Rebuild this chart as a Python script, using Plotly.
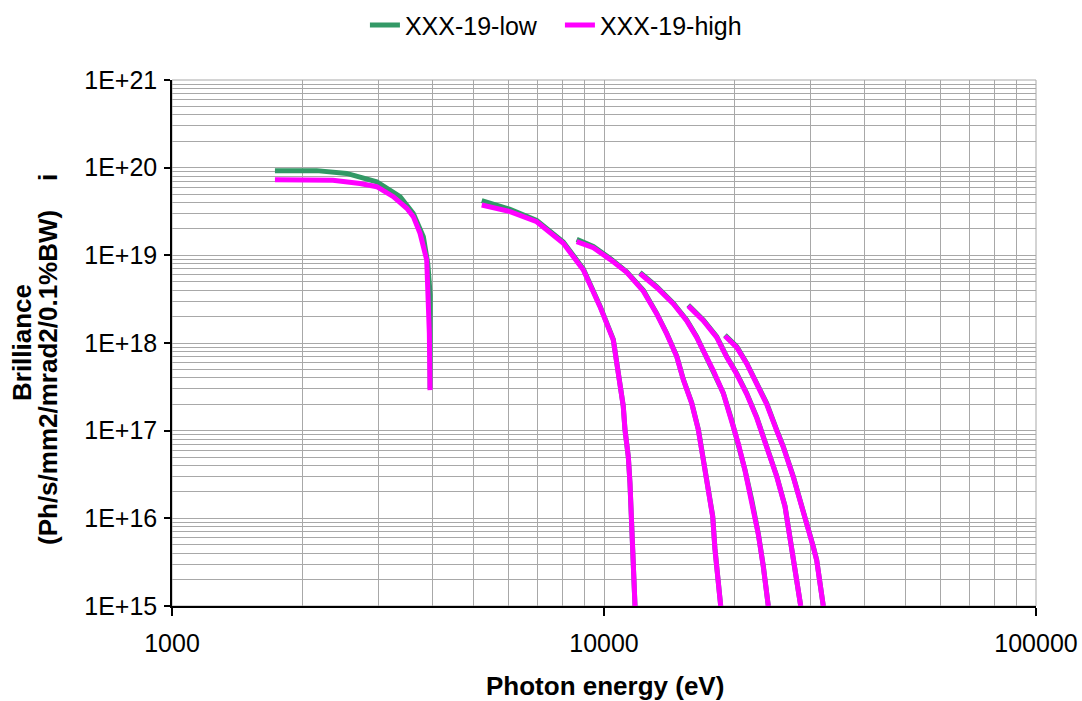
import plotly.graph_objects as go

# ---- data ----
# photon energy (eV) per harmonic segment
E1_high = [1731, 2000, 2358, 2724, 2978, 3253, 3494, 3619, 3751, 3887, 3921, 3942, 3956]
B1_high = [7.3e19, 7.35e19, 7.2e19, 6.6e19, 6.07e19, 4.67e19, 3.44e19, 2.76e19, 1.78e19, 8.85e18, 3.69e18, 1.29e18, 2.9e17]
E1_low = [1731, 2000, 2162, 2537, 2978, 3372, 3619, 3818, 3910, 3960, 3965, 3958]
B1_low = [9.25e19, 9.3e19, 9.25e19, 8.6e19, 6.9e19, 4.67e19, 3.0e19, 1.63e19, 8.0e18, 3.5e18, 1.2e18, 3.0e17]

E2 = [5212, 6060, 6985, 8050, 8958, 9788, 10508, 10792, 11083, 11183, 11385, 11485, 11590, 11652, 11797]
B2_high = [3.75e19, 3.15e19, 2.42e19, 1.37e19, 6.8e18, 2.6e18, 1.08e18, 4.5e17, 1.88e17, 1.02e17, 5.0e16, 2.5e16, 1.04e16, 4.4e15, 1.0e15]
B2_low = [4.2e19, 3.35e19, 2.5e19, 1.42e19, 7.0e18, 2.65e18, 1.1e18, 4.6e17, 1.9e17, 1.03e17, 5.0e16, 2.5e16, 1.04e16, 4.4e15, 1.0e15]

E3 = [8646, 9447, 10325, 11288, 12331, 13243, 13970, 14734, 15262, 15959, 16533, 16979, 17436, 17849, 18066, 18391, 18627]
B3_high = [1.43e19, 1.22e19, 9.0e18, 6.4e18, 3.9e18, 2.15e18, 1.27e18, 7.0e17, 3.8e17, 2.05e17, 1.02e17, 4.6e16, 2.1e16, 1.04e16, 4.4e15, 1.8e15, 1.0e15]
B3_low = [1.52e19, 1.26e19, 9.25e18, 6.5e18, 4.0e18, 2.18e18, 1.29e18, 7.1e17, 3.85e17, 2.08e17, 1.04e17, 4.7e16, 2.15e16, 1.06e16, 4.5e15, 1.85e15, 1.0e15]

E4 = [12114, 13243, 14466, 15535, 16393, 16979, 17906, 18892, 19750, 20463, 21206, 21978, 22760, 23377, 24007]
B4_high = [6.2e18, 4.3e18, 2.8e18, 1.8e18, 1.16e18, 8.2e17, 4.85e17, 2.65e17, 1.3e17, 7.1e16, 3.5e16, 1.6e16, 6.6e15, 2.8e15, 1.0e15]
B4_low = [6.4e18, 4.4e18, 2.84e18, 1.83e18, 1.18e18, 8.3e17, 4.9e17, 2.67e17, 1.32e17, 7.2e16, 3.56e16, 1.62e16, 6.7e15, 2.85e15, 1.0e15]

E5 = [15671, 16979, 18237, 19231, 20290, 21398, 22567, 24007, 25104, 26242, 26957, 27681, 28533]
B5_high = [2.65e18, 1.8e18, 1.16e18, 6.9e17, 4.4e17, 2.62e17, 1.4e17, 6.0e16, 3.0e16, 1.36e16, 6.2e15, 2.8e15, 1.0e15]
B5_low = [2.72e18, 1.83e18, 1.18e18, 7.0e17, 4.5e17, 2.67e17, 1.43e17, 6.1e16, 3.05e16, 1.38e16, 6.3e15, 2.85e15, 1.0e15]

E6 = [19055, 20290, 21398, 22567, 23805, 25104, 26003, 27430, 28930, 29710, 30515, 31073, 31623, 32183]
B6_high = [1.2e18, 8.9e17, 5.8e17, 3.4e17, 2.0e17, 1.0e17, 6.5e16, 2.95e16, 1.23e16, 7.9e15, 4.7e15, 3.3e15, 1.8e15, 1.0e15]
B6_low = [1.23e18, 9.1e17, 5.9e17, 3.47e17, 2.05e17, 1.02e17, 6.6e16, 3.0e16, 1.25e16, 8.0e15, 4.75e15, 3.35e15, 1.8e15, 1.0e15]

series_names = ["XXX-19-low", "XXX-19-high"]
x_tick_vals = [1000, 10000, 100000]
x_tick_labels = ["1000", "10000", "100000"]
y_tick_vals = [1e15, 1e16, 1e17, 1e18, 1e19, 1e20, 1e21]
y_tick_labels = ["1E+15", "1E+16", "1E+17", "1E+18", "1E+19", "1E+20", "1E+21"]
x_title = "Photon energy (eV)"
y_title_1 = "Brilliance"
y_title_2 = "(Ph/s/mm2/mrad2/0.1%BW)\u00a0\u00a0\u00a0\u00a0i"


def join_segments(segs):
    xs, ys = [], []
    for ex, by in segs:
        if xs:
            xs.append(None)
            ys.append(None)
        xs.extend(ex)
        ys.extend(by)
    return xs, ys


low_x, low_y = join_segments([(E1_low, B1_low), (E2, B2_low), (E3, B3_low),
                              (E4, B4_low), (E5, B5_low), (E6, B6_low)])
high_x, high_y = join_segments([(E1_high, B1_high), (E2, B2_high), (E3, B3_high),
                                (E4, B4_high), (E5, B5_high), (E6, B6_high)])

FONT = "Liberation Sans, Arial, sans-serif"
GRID = "#a8a8a8"
TICK_SIZE = 25
TITLE_SIZE = 26

fig = go.Figure()
fig.add_trace(go.Scatter(x=low_x, y=low_y, mode="lines", name=series_names[0],
                         line=dict(color="#339966", width=5), connectgaps=False))
fig.add_trace(go.Scatter(x=high_x, y=high_y, mode="lines", name=series_names[1],
                         line=dict(color="#ff00ff", width=5), connectgaps=False))

minor_x = [float(m) * 10.0 ** d for d in range(3, 5) for m in range(2, 10)]
minor_y = [float(m) * 10.0 ** d for d in range(15, 21) for m in range(2, 10)]

fig.update_xaxes(type="log", range=[3, 5], tickmode="array", tickvals=x_tick_vals,
                 ticktext=x_tick_labels, ticks="outside", ticklen=8, tickwidth=1.5,
                 tickcolor="black", showline=True, linecolor="black", linewidth=1.5,
                 showgrid=True, gridcolor=GRID, gridwidth=1, zeroline=False,
                 ticklabelstandoff=6,
                 minor=dict(tickmode="array", tickvals=minor_x, showgrid=True,
                            gridcolor=GRID, gridwidth=1, ticks=""),
                 tickfont=dict(family=FONT, size=TICK_SIZE, color="black"))
fig.update_yaxes(type="log", range=[15, 21], tickmode="array", tickvals=y_tick_vals,
                 ticktext=y_tick_labels, ticks="outside", ticklen=6, tickwidth=1.5,
                 tickcolor="black", showline=True, linecolor="black", linewidth=1.5,
                 showgrid=True, gridcolor=GRID, gridwidth=1, zeroline=False,
                 ticklabelstandoff=2,
                 minor=dict(tickmode="array", tickvals=minor_y, showgrid=True,
                            gridcolor=GRID, gridwidth=1, ticks=""),
                 tickfont=dict(family=FONT, size=TICK_SIZE, color="black"))

fig.add_shape(type="rect", xref="paper", yref="paper", x0=0, x1=1, y0=0, y1=1,
              line=dict(color=GRID, width=1), layer="below")

fig.add_annotation(text="<b>" + x_title + "</b>", xref="paper", yref="paper",
                   x=0.501, y=-0.152, xanchor="center", yanchor="middle", showarrow=False,
                   font=dict(family=FONT, size=TITLE_SIZE, color="black"))
fig.add_annotation(text="<b>" + y_title_1 + "</b>", xref="paper", yref="paper",
                   x=-0.1736, y=0.5, xanchor="center", yanchor="middle", showarrow=False,
                   textangle=-90, font=dict(family=FONT, size=TITLE_SIZE, color="black"))
fig.add_annotation(text="<b>" + y_title_2 + "</b>", xref="paper", yref="paper",
                   x=-0.1435, y=0.4677, xanchor="center", yanchor="middle", showarrow=False,
                   textangle=-90, font=dict(family=FONT, size=TITLE_SIZE, color="black"))

fig.update_layout(
    width=1082, height=701,
    margin=dict(l=172, r=46, t=80, b=95, autoexpand=False),
    paper_bgcolor="white", plot_bgcolor="white",
    showlegend=True,
    legend=dict(orientation="h", xref="paper", yref="paper",
                x=0.2233, xanchor="left", y=1.148, yanchor="top",
                font=dict(family=FONT, size=TICK_SIZE, color="black"),
                bgcolor="rgba(0,0,0,0)", entrywidth=150, entrywidthmode="pixels",
                tracegroupgap=0),
    font=dict(family=FONT, color="black"),
)

# remove the default 8px page margin so the 1082x701 figure fills the window exactly
fig.write_html("out.html", config={"displayModeBar": False},
               post_script="document.body.style.margin='0';document.body.style.overflow='hidden';")
